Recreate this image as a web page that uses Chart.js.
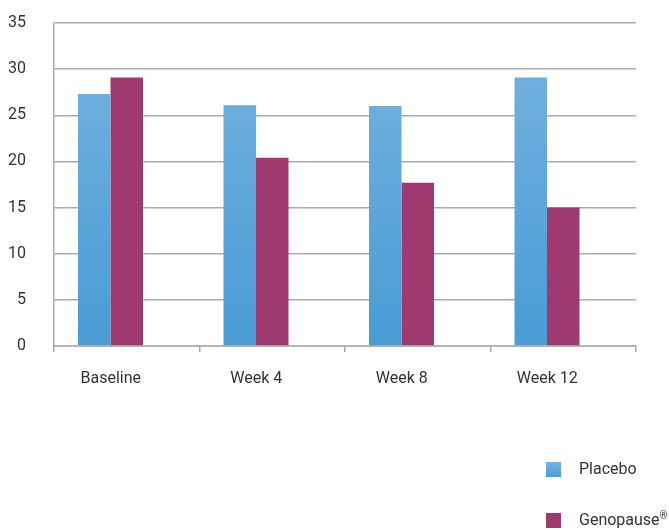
<!DOCTYPE html>
<html>
<head>
<meta charset="utf-8">
<script src="https://cdn.jsdelivr.net/npm/chart.js@4.4.1/dist/chart.umd.min.js"></script>
<style>
  html, body { margin: 0; padding: 0; background: #fff; }
  #wrap { position: relative; width: 669px; height: 530px; }
  #legend { position: absolute; left: 546px; top: 455px; font-family: Roboto, sans-serif; font-size: 16px; color: #333; }
  .item { position: relative; height: 51px; }
  .box { position: absolute; left: 0; top: 7px; width: 15px; height: 15px; }
  .lbl { position: absolute; left: 33px; top: 4px; white-space: nowrap; line-height: 20px; }
  sup { font-size: 10px; vertical-align: 6px; line-height: 0; }
</style>
</head>
<body>
<div id="wrap">
  <canvas id="c" width="669" height="530"></canvas>
  <div id="legend"></div>
</div>
<script>
const categories = ["Baseline", "Week 4", "Week 8", "Week 12"];
const placeboValues = [27.3, 26.1, 26.0, 29.1];
const genopauseValues = [29.1, 20.4, 17.7, 15.0];
const seriesNames = ["Placebo", "Genopause®"];
const yTicks = [0, 5, 10, 15, 20, 25, 30, 35];

const placeboTop = "#77b3e1";
const placeboBottom = "#499cd5";
const genopauseColor = "#9e3a70";

function placeboFill(ctx) {
  const chart = ctx.chart;
  const area = chart.chartArea;
  if (!area) return placeboTop;
  const g = chart.ctx.createLinearGradient(0, area.top, 0, area.bottom);
  g.addColorStop(0, placeboTop);
  g.addColorStop(1, placeboBottom);
  return g;
}

const chart = new Chart(document.getElementById("c"), {
  type: "bar",
  data: {
    labels: categories,
    datasets: [
      { label: seriesNames[0], data: placeboValues, backgroundColor: placeboFill, borderWidth: 0 },
      { label: seriesNames[1], data: genopauseValues, backgroundColor: genopauseColor, borderWidth: 0 },
      { label: "", data: categories.map(() => null), backgroundColor: "rgba(0,0,0,0)" }
    ]
  },
  options: {
    responsive: false,
    animation: false,
    devicePixelRatio: 1,
    layout: { padding: { top: 23, right: 33, left: 0, bottom: 0 } },
    datasets: { bar: { categoryPercentage: 0.67, barPercentage: 1.0 } },
    plugins: { legend: { display: false }, tooltip: { enabled: false } },
    scales: {
      x: {
        offset: true,
        grid: { offset: true, drawOnChartArea: false, drawTicks: true, tickLength: 6, color: "#a6a6a6", lineWidth: 1.5 },
        border: { display: true, color: "#b5b5b5", width: 2 },
        ticks: { color: "#333", font: { family: "Roboto", size: 16 }, padding: 17, labelOffset: -16, maxRotation: 0 },
        afterFit: (s) => { s.height = 184; s.paddingLeft = 0; s.paddingRight = 0; }
      },
      y: {
        min: 0, max: 35,
        afterBuildTicks: (s) => { s.ticks = yTicks.map(v => ({ value: v })); },
        grid: { drawTicks: false, color: "#ababab", lineWidth: 1.5 },
        border: { display: true, color: "#ababab", width: 1.5 },
        ticks: { color: "#333", font: { family: "Roboto", size: 16 }, padding: 28 },
        afterFit: (s) => { s.width = 54; s.paddingTop = 0; s.paddingBottom = 0; }
      }
    }
  }
});

const legend = document.getElementById("legend");
const colors = [placeboBottom, genopauseColor];
seriesNames.forEach((name, i) => {
  const item = document.createElement("div");
  item.className = "item";
  const box = document.createElement("div");
  box.className = "box";
  box.style.background = i === 0 ? "linear-gradient(" + placeboTop + "," + placeboBottom + ")" : colors[i];
  const lbl = document.createElement("div");
  lbl.className = "lbl";
  if (name.endsWith("®")) {
    lbl.innerHTML = name.slice(0, -1) + "<sup>®</sup>";
  } else {
    lbl.textContent = name;
  }
  item.appendChild(box);
  item.appendChild(lbl);
  legend.appendChild(item);
});
</script>
</body>
</html>
